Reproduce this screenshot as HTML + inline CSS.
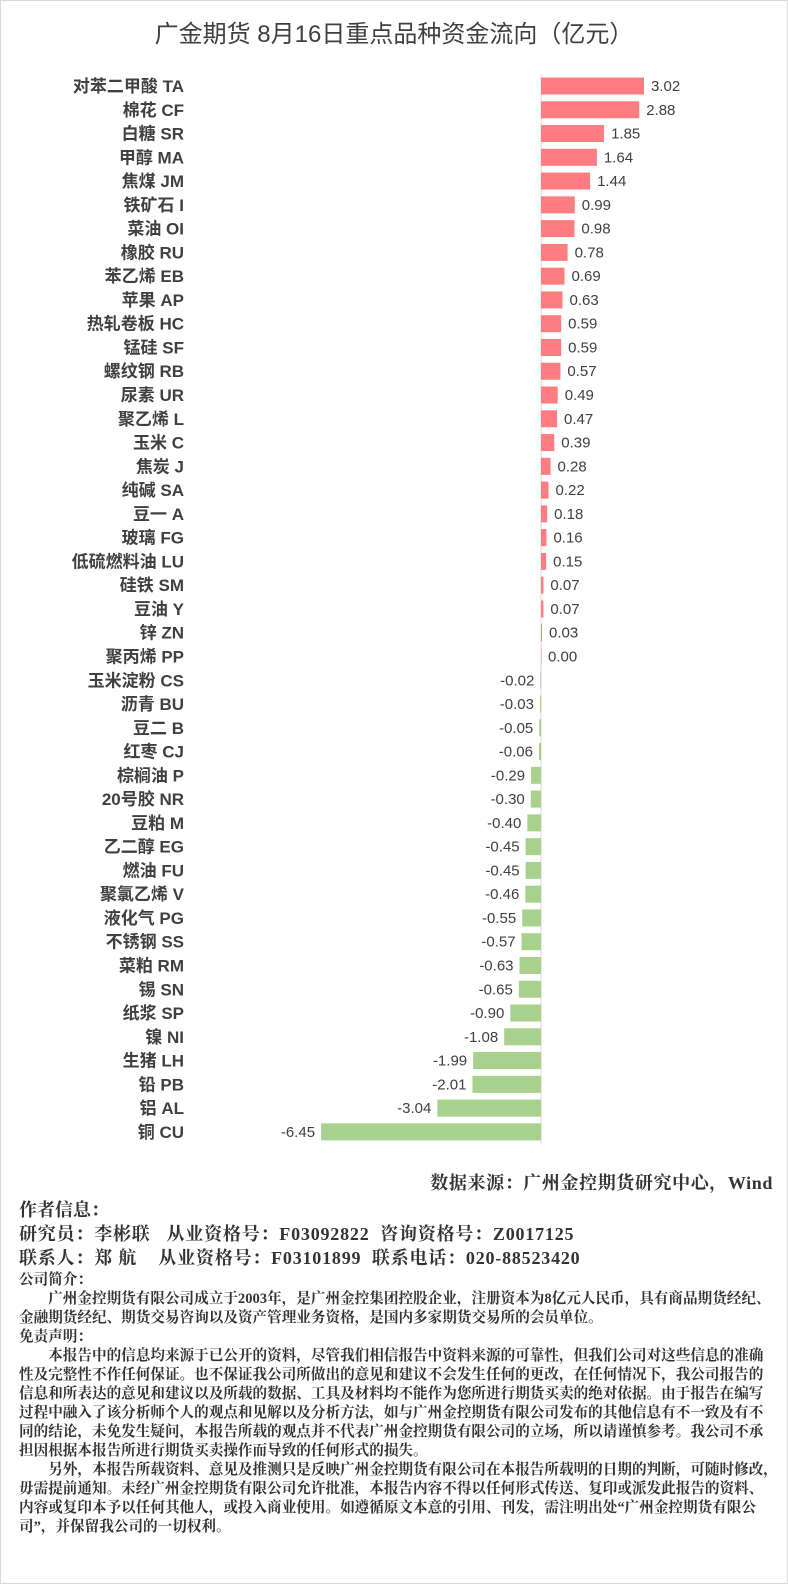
<!DOCTYPE html>
<html><head><meta charset="utf-8"><style>
body{margin:0;background:#fff;}
#wrap{position:relative;width:786px;height:1582px;border:1px solid #d9d9d9;background:#fff;overflow:hidden;font-family:"Liberation Sans","Noto Sans CJK SC",sans-serif;}
.t{position:absolute;white-space:nowrap;}
.f{font-family:"Liberation Serif","Noto Serif CJK SC",serif;color:#333;}
.p div{white-space:nowrap;}
</style></head><body>
<div id="wrap">
<div class="t" style="left:0;width:786px;text-align:center;top:13px;font-size:24px;color:#404040;">广金期货 8月16日重点品种资金流向（亿元）</div>
<svg id="chart" width="786" height="1160" style="position:absolute;left:0;top:0"></svg>
<div class="t f" style="right:14px;top:1168px;font-size:18px;font-weight:bold;letter-spacing:0.6px;">数据来源：广州金控期货研究中心，Wind</div>
<div class="t f" style="left:18px;top:1195px;font-size:18px;font-weight:bold;">作者信息：</div>
<div class="t f" style="left:18px;top:1219px;font-size:18px;font-weight:bold;letter-spacing:0.8px;">研究员：李彬联&nbsp;&nbsp;&nbsp;从业资格号：F03092822&nbsp;&nbsp;咨询资格号：Z0017125</div>
<div class="t f" style="left:18px;top:1243px;font-size:18px;font-weight:bold;letter-spacing:0.8px;">联系人：郑 航&nbsp;&nbsp;&nbsp;&nbsp;从业资格号：F03101899&nbsp;&nbsp;联系电话：020-88523420</div>
<div class="f p" style="position:absolute;left:18px;top:1270px;font-size:14.6px;line-height:19px;font-weight:bold;">
<div>公司简介：</div>
<div>&emsp;&emsp;广州金控期货有限公司成立于2003年，是广州金控集团控股企业，注册资本为8亿元人民币，具有商品期货经纪、</div>
<div>金融期货经纪、期货交易咨询以及资产管理业务资格，是国内多家期货交易所的会员单位。</div>
<div>免责声明：</div>
<div>&emsp;&emsp;本报告中的信息均来源于已公开的资料，尽管我们相信报告中资料来源的可靠性，但我们公司对这些信息的准确</div>
<div>性及完整性不作任何保证。也不保证我公司所做出的意见和建议不会发生任何的更改，在任何情况下，我公司报告的</div>
<div>信息和所表达的意见和建议以及所载的数据、工具及材料均不能作为您所进行期货买卖的绝对依据。由于报告在编写</div>
<div>过程中融入了该分析师个人的观点和见解以及分析方法，如与广州金控期货有限公司发布的其他信息有不一致及有不</div>
<div>同的结论，未免发生疑问，本报告所载的观点并不代表广州金控期货有限公司的立场，所以请谨慎参考。我公司不承</div>
<div>担因根据本报告所进行期货买卖操作而导致的任何形式的损失。</div>
<div>&emsp;&emsp;另外，本报告所载资料、意见及推测只是反映广州金控期货有限公司在本报告所载明的日期的判断，可随时修改，</div>
<div>毋需提前通知。未经广州金控期货有限公司允许批准，本报告内容不得以任何形式传送、复印或派发此报告的资料、</div>
<div>内容或复印本予以任何其他人，或投入商业使用。如遵循原文本意的引用、刊发，需注明出处“广州金控期货有限公</div>
<div>司”，并保留我公司的一切权利。</div>
</div>
</div>
<script>
const categories=["对苯二甲酸 TA","棉花 CF","白糖 SR","甲醇 MA","焦煤 JM","铁矿石 I","菜油 OI","橡胶 RU","苯乙烯 EB","苹果 AP","热轧卷板 HC","锰硅 SF","螺纹钢 RB","尿素 UR","聚乙烯 L","玉米 C","焦炭 J","纯碱 SA","豆一 A","玻璃 FG","低硫燃料油 LU","硅铁 SM","豆油 Y","锌 ZN","聚丙烯 PP","玉米淀粉 CS","沥青 BU","豆二 B","红枣 CJ","棕榈油 P","20号胶 NR","豆粕 M","乙二醇 EG","燃油 FU","聚氯乙烯 V","液化气 PG","不锈钢 SS","菜粕 RM","锡 SN","纸浆 SP","镍 NI","生猪 LH","铅 PB","铝 AL","铜 CU"];
const values=[3.02,2.88,1.85,1.64,1.44,0.99,0.98,0.78,0.69,0.63,0.59,0.59,0.57,0.49,0.47,0.39,0.28,0.22,0.18,0.16,0.15,0.07,0.07,0.03,0.00,-0.02,-0.03,-0.05,-0.06,-0.29,-0.30,-0.40,-0.45,-0.45,-0.46,-0.55,-0.57,-0.63,-0.65,-0.90,-1.08,-1.99,-2.01,-3.04,-6.45];
const svg=document.getElementById('chart');
const NS='http://www.w3.org/2000/svg';
const x0=540,k=34.1,yTop=85,step=23.77,bh=17;
const xs=v=>x0+v*k, ys=i=>yTop+i*step;
const axis=document.createElementNS(NS,'line');


axis.setAttribute('x1',x0);axis.setAttribute('x2',x0);axis.setAttribute('y1',ys(0)-12);axis.setAttribute('y2',ys(categories.length-1)+12);
axis.setAttribute('stroke','#d9d9d9');svg.appendChild(axis);
categories.forEach((c,i)=>{
  const v=values[i],y=ys(i);
  const r=document.createElementNS(NS,'rect');
  
  
  r.setAttribute('x',Math.min(xs(v),x0));r.setAttribute('width',Math.max(Math.abs(xs(v)-x0),0.5));
  r.setAttribute('y',y-bh/2);r.setAttribute('height',bh);
  r.setAttribute('fill',v>=0?'#FF7C80':'#A9D18E');svg.appendChild(r);
  const l=document.createElementNS(NS,'text');
  
  
  l.setAttribute('x',183);l.setAttribute('y',y+6);l.setAttribute('text-anchor','end');
  l.setAttribute('font-size','17');l.setAttribute('font-weight','bold');l.setAttribute('fill','#404040');
  l.textContent=c;svg.appendChild(l);
  const t=document.createElementNS(NS,'text');
  
  
  if(v>=0){t.setAttribute('x',xs(v)+7);t.setAttribute('text-anchor','start');}
  else{t.setAttribute('x',Math.min(xs(v),x0)-6);t.setAttribute('text-anchor','end');}
  t.setAttribute('y',y+5);t.setAttribute('font-size','15');t.setAttribute('fill','#404040');
  t.textContent=v.toFixed(2);svg.appendChild(t);
});
</script>
</body></html>
